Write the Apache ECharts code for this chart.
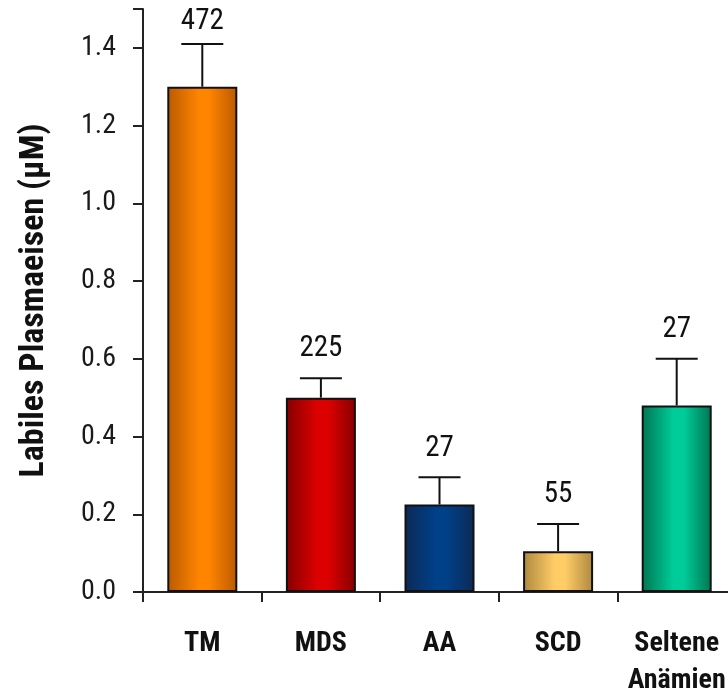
<!DOCTYPE html>
<html>
<head>
<meta charset="utf-8">
<script src="https://cdn.jsdelivr.net/npm/echarts@6/dist/echarts.min.js"></script>
<style>
html,body{margin:0;padding:0;background:#fff;}
#chart{width:728px;height:690px;}
</style>
</head>
<body>
<div id="chart"></div>
<script>
var categories = ['TM', 'MDS', 'AA', 'SCD', 'Seltene\nAnämien'];
var meanValues = [1.30, 0.50, 0.225, 0.105, 0.48];
var upperValues = [1.41, 0.55, 0.295, 0.175, 0.60];
var countLabels = ['472', '225', '27', '55', '27'];
var yTickMax = 1.5;

var FONT = "'Roboto Condensed', 'Noto Sans Condensed', 'Liberation Sans Narrow', 'Arial Narrow', 'Liberation Sans', sans-serif";
var barColors = [
  ['#b95a00', '#ff8400'],
  ['#860000', '#dd0000'],
  ['#0c2a54', '#004089'],
  ['#ad8840', '#ffcc66'],
  ['#007552', '#00cc99']
];

function grad(pair) {
  return new echarts.graphic.LinearGradient(0, 0, 1, 0, [
    {offset: 0, color: pair[0]},
    {offset: 0.45, color: pair[1]},
    {offset: 0.6, color: pair[1]},
    {offset: 1, color: pair[0]}
  ]);
}

var barData = meanValues.map(function (v, i) {
  return {value: v, itemStyle: {color: grad(barColors[i])}};
});
var errData = meanValues.map(function (v, i) { return [i, v, upperValues[i]]; });

var chart = echarts.init(document.getElementById('chart'), null, {renderer: 'canvas'});
chart.setOption({
  animation: false,
  backgroundColor: '#fff',
  grid: {left: 143, right: -8, top: 9, bottom: 98, containLabel: false, outerBoundsMode: 'none'},
  xAxis: {
    type: 'category',
    data: categories,
    axisLine: {lineStyle: {color: '#222', width: 2}},
    axisTick: {show: true, length: 10, lineStyle: {color: '#222', width: 2}},
    axisLabel: {
      fontFamily: FONT, fontSize: 28, fontWeight: 'bold', color: '#111',
      margin: 33, lineHeight: 37, interval: 0
    }
  },
  yAxis: {
    type: 'value',
    min: 0, max: yTickMax, interval: 0.2,
    name: 'Labiles Plasmaeisen (µM)',
    nameLocation: 'middle',
    nameGap: 92,
    nameTextStyle: {fontFamily: FONT, fontSize: 34, fontWeight: 'bold', color: '#111'},
    splitLine: {show: false},
    axisLine: {show: true, lineStyle: {color: '#222', width: 2}},
    axisTick: {show: true, length: 10, lineStyle: {color: '#222', width: 2}},
    axisLabel: {
      fontFamily: FONT, fontSize: 28, color: '#1a1a1a', margin: 27,
      formatter: function (v) { return v > 1.45 ? '' : v.toFixed(1); }
    }
  },
  series: [
    {
      type: 'bar',
      data: barData,
      barWidth: 70,
      itemStyle: {borderColor: '#111', borderWidth: 2},
      z: 2
    },
    {
      type: 'custom',
      data: errData,
      z: 3,
      renderItem: function (params, api) {
        var i = api.value(0);
        var top = api.coord([i, api.value(1)]);
        var cap = api.coord([i, api.value(2)]);
        var half = 21;
        var labelY = Math.max(cap[1] - 29, 22);
        return {
          type: 'group',
          children: [
            {type: 'line', shape: {x1: top[0], y1: top[1], x2: cap[0], y2: cap[1]},
             style: {stroke: '#111', lineWidth: 2}},
            {type: 'line', shape: {x1: cap[0] - half, y1: cap[1], x2: cap[0] + half, y2: cap[1]},
             style: {stroke: '#111', lineWidth: 2}},
            {type: 'text', x: cap[0], y: labelY,
             style: {text: countLabels[params.dataIndex], fontFamily: FONT, fontSize: 29,
                     fill: '#111', align: 'center', verticalAlign: 'middle'}}
          ]
        };
      }
    }
  ]
});
</script>
</body>
</html>
